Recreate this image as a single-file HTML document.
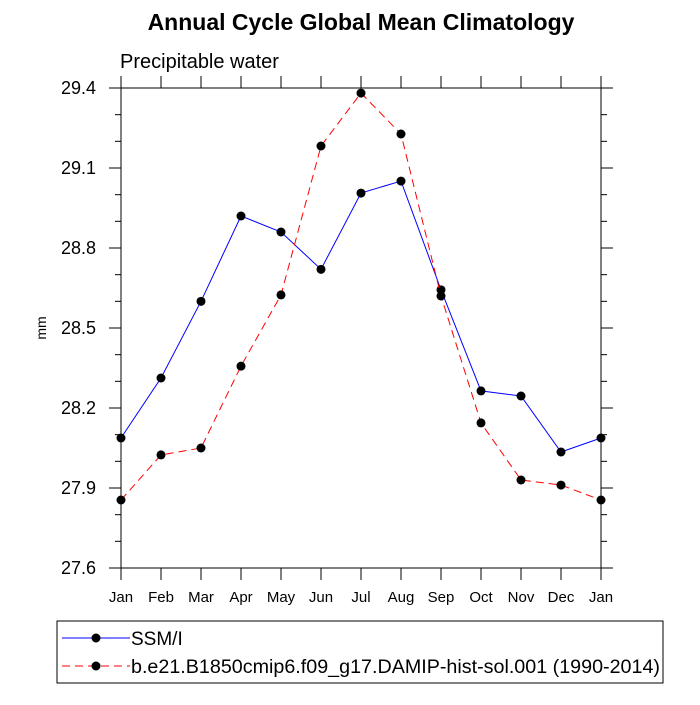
<!DOCTYPE html>
<html><head><meta charset="utf-8"><style>
html,body{margin:0;padding:0;background:#fff;}
svg text{font-family:"Liberation Sans",Helvetica,sans-serif;}
</style></head><body>
<svg id="chart" width="700" height="700" xmlns="http://www.w3.org/2000/svg"></svg>
<script>
const months=["Jan","Feb","Mar","Apr","May","Jun","Jul","Aug","Sep","Oct","Nov","Dec","Jan"];
const ssmi=[28.0875,28.3125,28.60,28.92,28.86,28.72,29.006,29.051,28.643,28.264,28.245,28.035,28.0875];
const model=[27.855,28.024,28.05,28.357,28.624,29.1825,29.381,29.2275,28.62,28.144,27.93,27.911,27.855];
const yTicks=[27.6,27.9,28.2,28.5,28.8,29.1,29.4];
const yMin=27.6,yMax=29.4;
const L=121,R=601,T=88,B=568;
const NS="http://www.w3.org/2000/svg";
const svg=document.getElementById('chart');
function X(i){return L+(R-L)*i/(months.length-1);}
function Y(v){return B-(v-yMin)/(yMax-yMin)*(B-T);}
function mk(tag,attrs,parent){const e=document.createElementNS(NS,tag);for(const k in attrs)e.setAttribute(k,attrs[k]);(parent||svg).appendChild(e);return e;}
function txt(s,attrs){const e=mk('text',attrs);e.textContent=s;return e;}
let t=txt("Annual Cycle Global Mean Climatology",{x:361,y:30,"text-anchor":"middle","font-size":23,"font-weight":"bold"});


t=txt("Precipitable water",{x:120,y:68,"font-size":20});


t=txt("mm",{x:46,y:328,"font-size":14,"text-anchor":"middle",transform:"rotate(-90 46 328)"});


let f=mk('rect',{x:L,y:T,width:R-L,height:B-T,fill:"none",stroke:"#000","stroke-width":1});


for(let v=yMin;v<=yMax+1e-6;v+=0.1){
  const y=Y(v);const major=yTicks.some(m=>Math.abs(m-v)<1e-6);const len=major?12:6;
  mk('line',{x1:L,x2:L-len,y1:y,y2:y,stroke:"#000"});
  mk('line',{x1:R,x2:R+len,y1:y,y2:y,stroke:"#000"});
}
yTicks.forEach(v=>{const e=txt(v.toFixed(1),{x:96,y:Y(v)+6,"text-anchor":"end","font-size":18});

});
months.forEach((m,i)=>{mk('line',{x1:X(i),x2:X(i),y1:B,y2:B+12,stroke:"#000"});mk('line',{x1:X(i),x2:X(i),y1:T,y2:T-12,stroke:"#000"});
const e=txt(m,{x:X(i),y:B+34,"text-anchor":"middle","font-size":15});

});
function series(vals,color,dash,name){
  const p=mk('polyline',{points:vals.map((v,i)=>X(i)+","+Y(v)).join(" "),fill:"none",stroke:color,"stroke-width":1,"stroke-dasharray":dash});
  
  
  vals.forEach((v,i)=>{const c=mk('circle',{cx:X(i),cy:Y(v),r:4.5,fill:"#000"});
  
  });
}
series(ssmi,"#0000ff","none","ssmi");
series(model,"#ff0000","8,5","model");
const lg=mk('rect',{x:57,y:621,width:606,height:62,fill:"none",stroke:"#000"});


mk('line',{x1:62,x2:130,y1:638,y2:638,stroke:"#0000ff"});mk('circle',{cx:96,cy:638,r:4.5,fill:"#000"});
t=txt("SSM/I",{x:131,y:645,"font-size":19});


mk('line',{x1:62,x2:130,y1:666,y2:666,stroke:"#ff0000","stroke-dasharray":"8,5"});mk('circle',{cx:96,cy:666,r:4.5,fill:"#000"});
t=txt("b.e21.B1850cmip6.f09_g17.DAMIP-hist-sol.001 (1990-2014)",{x:131,y:673,"font-size":19,textLength:529,lengthAdjust:"spacingAndGlyphs"});


</script>
</body></html>
